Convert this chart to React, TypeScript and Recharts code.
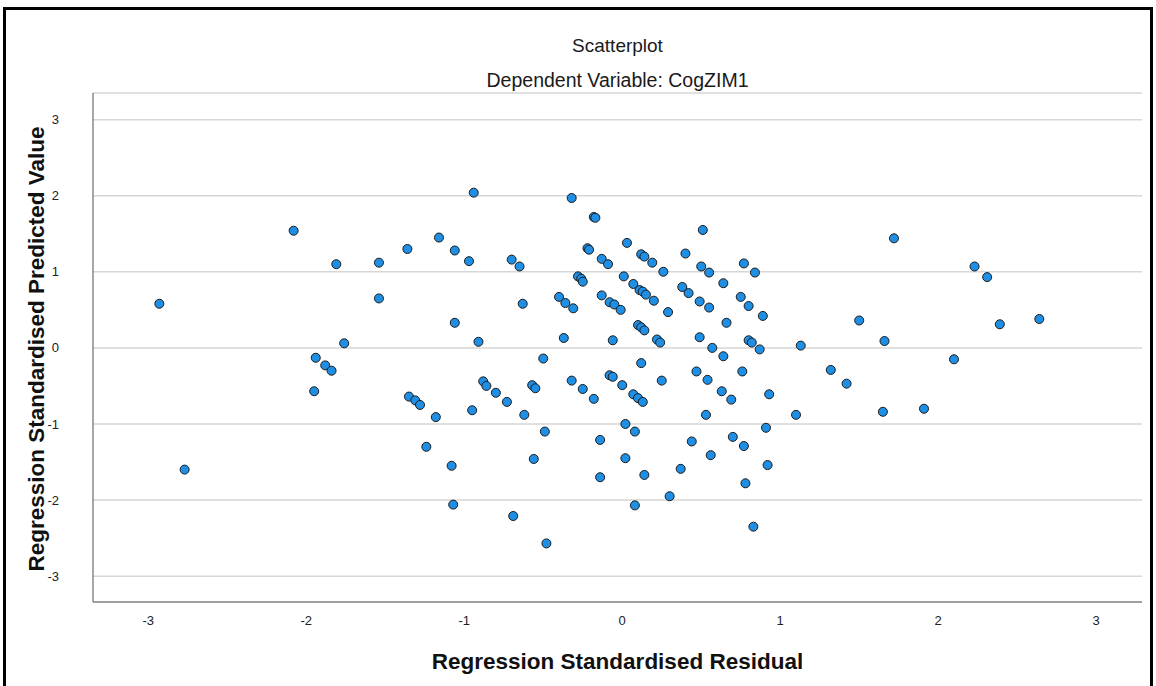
import { CartesianGrid, Scatter, ScatterChart, XAxis, YAxis } from "recharts";

// regression standardised residual (x) and predicted value (y)
const residuals = [
  -2.93, -2.77, -2.08, -1.81, -1.54, -1.54, -1.76, -1.94, -1.88, -1.84, -1.95,
  -0.94, -1.16, -1.36, -1.06, -0.97, -0.7, -0.65, -1.06, -0.63, -0.91, -0.5,
  -1.35, -1.31, -1.28, -1.18, -0.95, -0.88, -0.86, -0.8, -0.73, -0.57, -0.55,
  -0.62, -0.49, -1.24, -0.56, -1.08, -1.07, -0.69, -0.48,
  -0.32, -0.18, -0.17, 0.03, 0.51, -0.22, -0.21, 0.12, 0.14, 0.19, 0.26, 0.4,
  0.5, 0.55, 0.64, 0.77, 0.84, -0.13, -0.09, -0.28, -0.26, -0.25, -0.4, -0.36,
  -0.31, -0.13, -0.08, -0.05, -0.01, 0.01, 0.07, 0.11, 0.13, 0.15, 0.2, 0.29,
  0.38, 0.42, 0.49, 0.55, 0.66, 0.75, 0.8, 0.89, -0.37, -0.06, 0.1, 0.12, 0.14,
  0.22, 0.24, 0.49, 0.57, 0.64, 0.8, 0.82, 0.87, 0.12, 0.25, 0.47, 0.54, 0.76,
  -0.32, -0.25, -0.18, -0.08, -0.06, 0.0, 0.07, 0.1, 0.13, 0.63, 0.69, 0.53,
  0.02, 0.08, -0.14, 0.44, 0.7, 0.77, 0.02, 0.56, -0.14, 0.14, 0.37, 0.92, 0.78,
  0.3, 0.08, 0.83, 0.93, 0.91,
  1.72, 2.23, 2.31, 1.5, 1.66, 1.13, 1.32, 1.42, 2.1, 1.1, 1.65, 1.91, 2.39, 2.64,
];

const predicted = [
  0.58, -1.6, 1.54, 1.1, 1.12, 0.65, 0.06, -0.13, -0.23, -0.3, -0.57,
  2.04, 1.45, 1.3, 1.28, 1.14, 1.16, 1.07, 0.33, 0.58, 0.08, -0.14,
  -0.64, -0.69, -0.75, -0.91, -0.82, -0.44, -0.5, -0.59, -0.71, -0.49, -0.53,
  -0.88, -1.1, -1.3, -1.46, -1.55, -2.06, -2.21, -2.57,
  1.97, 1.72, 1.71, 1.38, 1.55, 1.31, 1.29, 1.23, 1.2, 1.12, 1.0, 1.24,
  1.07, 0.99, 0.85, 1.11, 0.99, 1.17, 1.1, 0.94, 0.91, 0.87, 0.67, 0.59,
  0.52, 0.69, 0.6, 0.57, 0.5, 0.94, 0.84, 0.76, 0.74, 0.7, 0.62, 0.47,
  0.8, 0.72, 0.61, 0.53, 0.33, 0.67, 0.55, 0.42, 0.13, 0.1, 0.3, 0.27, 0.23,
  0.11, 0.07, 0.14, 0.0, -0.11, 0.1, 0.07, -0.02, -0.2, -0.43, -0.31, -0.42, -0.31,
  -0.43, -0.54, -0.67, -0.36, -0.38, -0.49, -0.61, -0.66, -0.71, -0.57, -0.68, -0.88,
  -1.0, -1.1, -1.21, -1.23, -1.17, -1.29, -1.45, -1.41, -1.7, -1.67, -1.59, -1.54, -1.78,
  -1.95, -2.07, -2.35, -0.61, -1.05,
  1.44, 1.07, 0.93, 0.36, 0.09, 0.03, -0.29, -0.47, -0.15, -0.88, -0.84, -0.8, 0.31, 0.38,
];

const axisTicks = [-3, -2, -1, 0, 1, 2, 3];

const points = residuals.map((x, i) => ({ x, y: predicted[i] }));

const font = "'Liberation Sans', Arial, sans-serif";

const Dot = (props: any) => (
  <circle cx={props.cx} cy={props.cy} r={4.5} fill="#1e8fe4" stroke="#1b1b1b" strokeWidth={1} />
);

const axisTitle = {
  position: "absolute" as const,
  textAlign: "center" as const,
  fontSize: 22.5,
  lineHeight: "26px",
  fontWeight: "bold" as const,
  color: "#111",
  whiteSpace: "nowrap" as const,
};

export default function App() {
  return (
    <div
      style={{
        position: "absolute",
        left: 0,
        top: 0,
        width: 1156,
        height: 686,
        overflow: "hidden",
        background: "#fff",
        fontFamily: font,
      }}
    >
      <div
        style={{
          position: "absolute",
          left: 3,
          top: 7,
          width: 1150,
          height: 720,
          border: "3px solid #000",
          boxSizing: "border-box",
        }}
      />
      <div style={{ position: "absolute", left: 0, width: 1235, top: 35, textAlign: "center", fontSize: 19, lineHeight: "22px", color: "#1a1a1a" }}>
        Scatterplot
      </div>
      <div style={{ position: "absolute", left: 0, width: 1235, top: 69, textAlign: "center", fontSize: 19.5, lineHeight: "22px", color: "#1a1a1a" }}>
        Dependent Variable: CogZIM1
      </div>
      <div style={{ ...axisTitle, left: 0, width: 1235, top: 649 }}>Regression Standardised Residual</div>
      <div style={{ ...axisTitle, left: 37 - 300, top: 349 - 13, width: 600, transform: "rotate(-90deg)" }}>
        Regression Standardised Predicted Value
      </div>
      <div style={{ position: "absolute", left: 0, top: 0 }}>
        <ScatterChart width={1156} height={686} margin={{ top: 93, right: 14, bottom: 0, left: 33 }}>
          <CartesianGrid vertical={false} stroke="#d6d6d6" strokeWidth={1.5} />
          <XAxis
            type="number"
            dataKey="x"
            domain={[-3.35, 3.29]}
            ticks={axisTicks}
            allowDataOverflow
            height={84}
            tickLine={false}
            tickSize={0}
            tickMargin={14}
            axisLine={{ stroke: "#8a8a8a", strokeWidth: 1.5 }}
            tick={{ fontSize: 13, fill: "#222", fontFamily: font }}
          />
          <YAxis
            type="number"
            dataKey="y"
            domain={[-3.34, 3.35]}
            ticks={axisTicks}
            allowDataOverflow
            width={60}
            tickLine={false}
            tickSize={0}
            tickMargin={34}
            axisLine={{ stroke: "#8a8a8a", strokeWidth: 1.5 }}
            tick={{ fontSize: 13, fill: "#222", fontFamily: font }}
          />
          <Scatter data={points} shape={Dot} isAnimationActive={false} />
        </ScatterChart>
      </div>
    </div>
  );
}
